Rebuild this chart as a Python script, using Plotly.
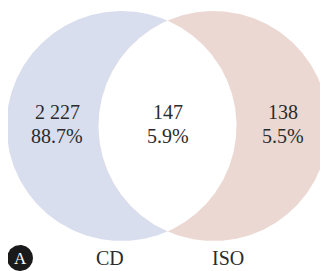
import numpy as np
import plotly.graph_objects as go

# Data
set_names = ["CD", "ISO"]
region_counts = ["2 227", "147", "138"]
region_pcts = ["88.7%", "5.9%", "5.5%"]
panel_label = "A"

W, H = 328, 271
OFF = 8  # page body margin
cy, r = 126, 115
cx_left, cx_right = 121.5, 213.5

fig = go.Figure()

t = np.linspace(0, 2 * np.pi, 400)

def circle(cx):
    return cx + r * np.cos(t), cy + r * np.sin(t)

for cx, col in [(cx_left, "#d9deee"), (cx_right, "#ecd8d2")]:
    x, y = circle(cx)
    fig.add_trace(go.Scatter(x=x, y=y, mode="lines", fill="toself",
                             fillcolor=col, line=dict(width=0, color=col),
                             hoverinfo="skip", showlegend=False))

# lens (intersection)
d = cx_right - cx_left
a = np.arccos((d / 2) / r)
ta = np.linspace(-a, a, 200)
xl = cx_left + r * np.cos(ta)
yl = cy + r * np.sin(ta)
tb = np.linspace(np.pi + a, np.pi - a, 200)
xr = cx_right + r * np.cos(tb)
yr = cy + r * np.sin(tb)
fig.add_trace(go.Scatter(x=np.concatenate([xl, xr[::-1]]), y=np.concatenate([yl, yr[::-1]]),
                         mode="lines", fill="toself", fillcolor="white",
                         line=dict(width=0, color="white"), hoverinfo="skip", showlegend=False))

# panel marker circle
pt = np.linspace(0, 2 * np.pi, 100)
fig.add_trace(go.Scatter(x=20 + 13 * np.cos(pt), y=258 + 13 * np.sin(pt), mode="lines",
                         fill="toself", fillcolor="#1a1a1a", line=dict(width=0, color="#1a1a1a"),
                         hoverinfo="skip", showlegend=False))

font = dict(family="Liberation Serif, DejaVu Serif, serif", size=20, color="#2b2b2b")
text_x = [57, 168, 283]
for x, c, p in zip(text_x, region_counts, region_pcts):
    fig.add_annotation(x=x, y=112, text=c, showarrow=False, font=font, xanchor="center", yanchor="middle")
    fig.add_annotation(x=x, y=136, text=p, showarrow=False, font=font, xanchor="center", yanchor="middle")

for x, name in zip([110, 228], set_names):
    fig.add_annotation(x=x, y=258, text=name, showarrow=False, font=font, xanchor="center", yanchor="middle")

fig.add_annotation(x=20, y=258, text=panel_label, showarrow=False,
                   font=dict(family="Liberation Serif, DejaVu Serif, serif", size=17, color="white"),
                   xanchor="center", yanchor="middle")

fig.update_layout(width=W - OFF, height=H - OFF, margin=dict(l=0, r=0, t=0, b=0),
                  paper_bgcolor="white", plot_bgcolor="white",
                  xaxis=dict(range=[OFF, W], visible=False, fixedrange=True),
                  yaxis=dict(range=[H, OFF], visible=False, fixedrange=True))

fig.write_html("out.html", config={"displayModeBar": False})
